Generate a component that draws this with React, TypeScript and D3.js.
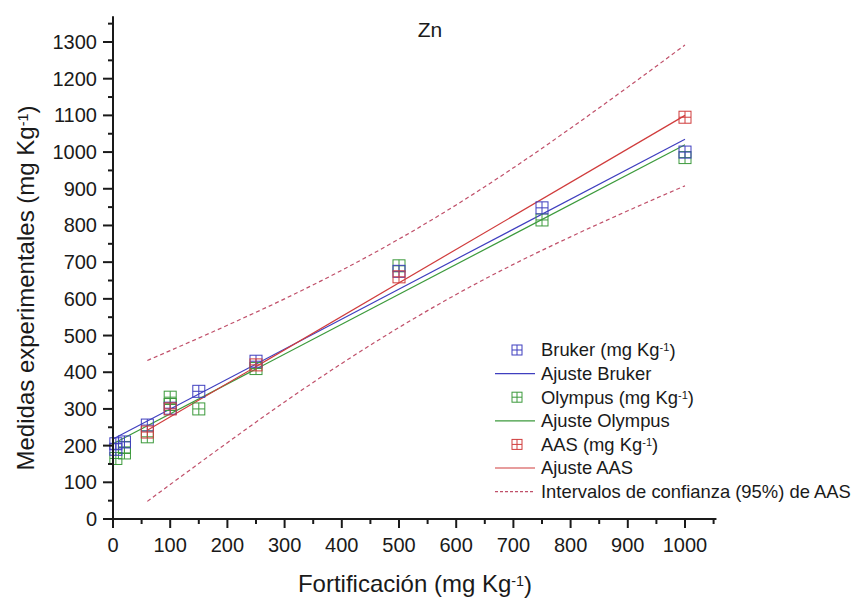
import React from "react";
import * as d3 from "d3";

const brukerX = [5, 5, 20, 60, 100, 150, 250, 500, 750, 1000];
const brukerY = [205, 190, 210, 256, 302, 348, 430, 675, 848, 1000];
const olympusX = [5, 20, 20, 60, 100, 100, 150, 250, 500, 750, 1000];
const olympusY = [165, 195, 180, 224, 312, 332, 300, 410, 690, 815, 985];
const aasX = [60, 100, 250, 500, 1000];
const aasY = [237, 300, 420, 660, 1095];

const brukerFitX = [0, 1000];
const brukerFitY = [218, 1035];
const olympusFitX = [0, 1000];
const olympusFitY = [205, 1020];
const aasFitX = [60, 1000];
const aasFitY = [242, 1100];

const ciX = [60, 100, 200, 300, 400, 500, 600, 700, 800, 900, 1000];
const ciUpper = [432, 459, 528, 600, 678, 763, 856, 957, 1065, 1177, 1292];
const ciLower = [48, 94, 208, 319, 424, 522, 612, 694, 769, 840, 908];

const xTicks = [0, 100, 200, 300, 400, 500, 600, 700, 800, 900, 1000];
const yTicks = [0, 100, 200, 300, 400, 500, 600, 700, 800, 900, 1000, 1100, 1200, 1300];

const BLUE = "#3f3fbf";
const GREEN = "#3c9a3c";
const RED = "#d03c3c";
const DASH = "#c0506a";
const FONT = "Liberation Sans, Arial, sans-serif";

const x = d3.scaleLinear().domain([0, 1000]).range([113, 685]);
const y = d3.scaleLinear().domain([0, 1300]).range([519, 42]);

function Marker({ cx, cy, color, s = 12 }: { cx: number; cy: number; color: string; s?: number }) {
  const h = s / 2;
  return (
    <g stroke={color} strokeWidth={1} fill="none">
      <rect x={cx - h} y={cy - h} width={s} height={s} />
      <line x1={cx - h} x2={cx + h} y1={cy} y2={cy} />
      <line x1={cx} x2={cx} y1={cy - h} y2={cy + h} />
    </g>
  );
}

function Unit() {
  return (
    <>
      (mg Kg<tspan dy="-0.45em" fontSize="0.6em">-1</tspan>
      <tspan dy="0.3em">)</tspan>
    </>
  );
}

export default function App() {
  const xMax = 1055;
  const yMax = 1370;
  const minorX = d3.range(50, xMax, 100);
  const minorY = d3.range(50, yMax, 100);
  const line = d3.line<[number, number]>().x((d) => x(d[0])).y((d) => y(d[1]));
  const curve = d3
    .line<[number, number]>()
    .x((d) => x(d[0]))
    .y((d) => y(d[1]))
    .curve(d3.curveMonotoneX);
  const zip = (a: number[], b: number[]) => a.map((v, i) => [v, b[i]] as [number, number]);

  const legendRows = [
    { kind: "m", color: BLUE, label: "Bruker ", unit: true },
    { kind: "l", color: BLUE, label: "Ajuste Bruker" },
    { kind: "m", color: GREEN, label: "Olympus ", unit: true },
    { kind: "l", color: GREEN, label: "Ajuste Olympus" },
    { kind: "m", color: RED, label: "AAS ", unit: true },
    { kind: "l", color: RED, label: "Ajuste AAS" },
    { kind: "d", color: DASH, label: "Intervalos de confianza (95%) de AAS" },
  ];

  return (
    <svg
      width={851}
      height={599}
      style={{ position: "absolute", left: 0, top: 0, background: "#fff" }}
      fontFamily={FONT}
    >
      {/* CI */}
      <path d={curve(zip(ciX, ciUpper)) || ""} fill="none" stroke={DASH} strokeWidth={1.2} strokeDasharray="4 3" />
      <path d={curve(zip(ciX, ciLower)) || ""} fill="none" stroke={DASH} strokeWidth={1.2} strokeDasharray="4 3" />
      {/* fits */}
      <path d={line(zip(olympusFitX, olympusFitY)) || ""} stroke={GREEN} strokeWidth={1.2} fill="none" />
      <path d={line(zip(brukerFitX, brukerFitY)) || ""} stroke={BLUE} strokeWidth={1.2} fill="none" />
      <path d={line(zip(aasFitX, aasFitY)) || ""} stroke={RED} strokeWidth={1.2} fill="none" />
      {/* points */}
      {olympusX.map((v, i) => (
        <Marker key={"o" + i} cx={x(v)} cy={y(olympusY[i])} color={GREEN} />
      ))}
      {brukerX.map((v, i) => (
        <Marker key={"b" + i} cx={x(v)} cy={y(brukerY[i])} color={BLUE} />
      ))}
      {aasX.map((v, i) => (
        <Marker key={"a" + i} cx={x(v)} cy={y(aasY[i])} color={RED} />
      ))}

      {/* axes */}
      <g stroke="#1a1a1a" strokeWidth={2}>
        <line x1={x(0)} x2={x(0)} y1={y(0) + 1} y2={y(yMax)} />
        <line x1={x(0) - 1} x2={x(xMax)} y1={y(0)} y2={y(0)} />
        {yTicks.map((t) => (
          <line key={"yt" + t} x1={x(0) - 10} x2={x(0)} y1={y(t)} y2={y(t)} />
        ))}
        {minorY.map((t) => (
          <line key={"ym" + t} x1={x(0) - 5} x2={x(0)} y1={y(t)} y2={y(t)} />
        ))}
        {xTicks.map((t) => (
          <line key={"xt" + t} x1={x(t)} x2={x(t)} y1={y(0)} y2={y(0) + 9} />
        ))}
        {minorX.map((t) => (
          <line key={"xm" + t} x1={x(t)} x2={x(t)} y1={y(0)} y2={y(0) + 5} />
        ))}
      </g>
      <g fontSize={20} fill="#1a1a1a">
        {yTicks.map((t) => (
          <text key={"yl" + t} x={x(0) - 16} y={y(t)} dy="0.35em" textAnchor="end">
            {t}
          </text>
        ))}
        {xTicks.map((t) => (
          <text key={"xl" + t} x={x(t)} y={y(0) + 33} textAnchor="middle">
            {t}
          </text>
        ))}
      </g>
      <text x={430} y={37} fontSize={21} textAnchor="middle" fill="#1a1a1a">
        Zn
      </text>
      <text x={415} y={592} fontSize={24} textAnchor="middle" fill="#1a1a1a">
        Fortificación <Unit />
      </text>
      <text
        transform={`translate(34, 288) rotate(-90)`}
        fontSize={24}
        textAnchor="middle"
        fill="#1a1a1a"
      >
        Medidas experimentales <Unit />
      </text>

      {/* legend */}
      <g fontSize={18.4} fill="#1a1a1a">
        {legendRows.map((r, i) => {
          const cy = 350 + i * 23.6;
          return (
            <g key={"lg" + i}>
              {r.kind === "m" && <Marker cx={517} cy={cy} color={r.color} s={10} />}
              {r.kind === "l" && <line x1={495} x2={535} y1={cy} y2={cy} stroke={r.color} strokeWidth={1.2} />}
              {r.kind === "d" && (
                <line x1={495} x2={535} y1={cy} y2={cy} stroke={r.color} strokeWidth={1.2} strokeDasharray="3 2" />
              )}
              <text x={541} y={cy} dy="0.35em">
                {r.label}
                {r.unit && <Unit />}
              </text>
            </g>
          );
        })}
      </g>
    </svg>
  );
}
